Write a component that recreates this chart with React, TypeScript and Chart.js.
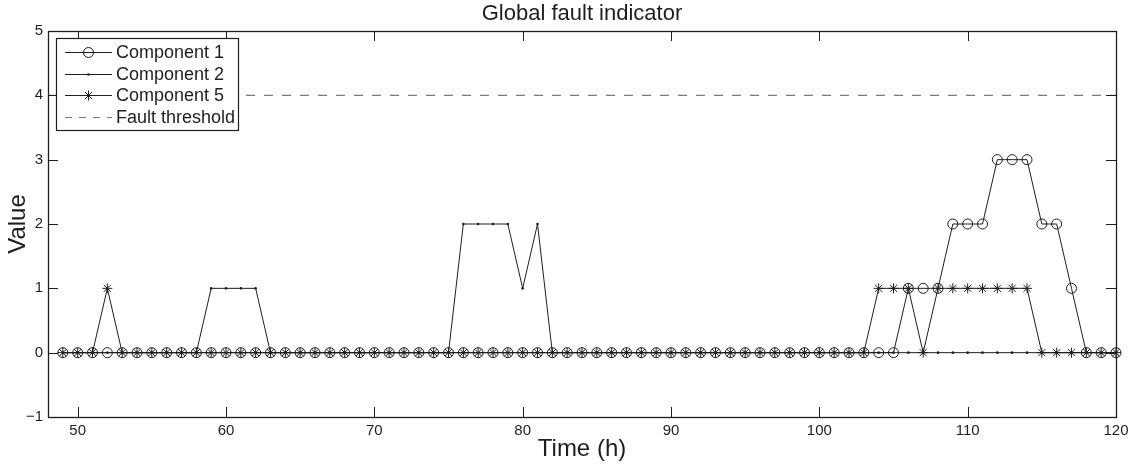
import React, { useEffect, useRef } from 'react';
import { Chart, registerables } from 'chart.js';

Chart.register(...registerables);

// ---- Data ----
const timeHours = [
  49, 50, 51, 52, 53, 54, 55, 56, 57, 58,
  59, 60, 61, 62, 63, 64, 65, 66, 67, 68,
  69, 70, 71, 72, 73, 74, 75, 76, 77, 78,
  79, 80, 81, 82, 83, 84, 85, 86, 87, 88,
  89, 90, 91, 92, 93, 94, 95, 96, 97, 98,
  99, 100, 101, 102, 103, 104, 105, 106, 107, 108,
  109, 110, 111, 112, 113, 114, 115, 116, 117, 118,
  119, 120,
];
const component1 = [
  0, 0, 0, 0, 0, 0, 0, 0, 0, 0,
  0, 0, 0, 0, 0, 0, 0, 0, 0, 0,
  0, 0, 0, 0, 0, 0, 0, 0, 0, 0,
  0, 0, 0, 0, 0, 0, 0, 0, 0, 0,
  0, 0, 0, 0, 0, 0, 0, 0, 0, 0,
  0, 0, 0, 0, 0, 0, 0, 1, 1, 1,
  2, 2, 2, 3, 3, 3, 2, 2, 1, 0,
  0, 0,
];
const component2 = [
  0, 0, 0, 0, 0, 0, 0, 0, 0, 0,
  1, 1, 1, 1, 0, 0, 0, 0, 0, 0,
  0, 0, 0, 0, 0, 0, 0, 2, 2, 2,
  2, 1, 2, 0, 0, 0, 0, 0, 0, 0,
  0, 0, 0, 0, 0, 0, 0, 0, 0, 0,
  0, 0, 0, 0, 0, 0, 0, 0, 0, 0,
  0, 0, 0, 0, 0, 0, 0, 0, 0, 0,
  0, 0,
];
const component5 = [
  0, 0, 0, 1, 0, 0, 0, 0, 0, 0,
  0, 0, 0, 0, 0, 0, 0, 0, 0, 0,
  0, 0, 0, 0, 0, 0, 0, 0, 0, 0,
  0, 0, 0, 0, 0, 0, 0, 0, 0, 0,
  0, 0, 0, 0, 0, 0, 0, 0, 0, 0,
  0, 0, 0, 0, 0, 1, 1, 1, 0, 1,
  1, 1, 1, 1, 1, 1, 0, 0, 0, 0,
  0, 0,
];
const thresholdX = [48, 120];
const thresholdY = [4, 4];

const xTickValues = [50, 60, 70, 80, 90, 100, 110, 120];
const yTickValues = [-1, 0, 1, 2, 3, 4, 5];
const seriesLabels = ['Component 1', 'Component 2', 'Component 5', 'Fault threshold'];
const titleText = 'Global fault indicator';
const xTitle = 'Time (h)';
const yTitle = 'Value';

const FONT = '"Liberation Sans", Arial, Helvetica, sans-serif';
const INK = '#1e1e1e';
const DASH_COLOR = '#7a7a7a';

function drawMarker(ctx: CanvasRenderingContext2D, kind: string, x: number, y: number) {
  ctx.beginPath();
  if (kind === 'circle') {
    ctx.arc(x, y, 5, 0, Math.PI * 2);
    ctx.stroke();
  } else if (kind === 'dot') {
    ctx.arc(x, y, 1.3, 0, Math.PI * 2);
    ctx.fill();
  } else if (kind === 'star') {
    const r = 5;
    const d = r * Math.SQRT1_2;
    ctx.moveTo(x - r, y); ctx.lineTo(x + r, y);
    ctx.moveTo(x, y - r); ctx.lineTo(x, y + r);
    ctx.moveTo(x - d, y - d); ctx.lineTo(x + d, y + d);
    ctx.moveTo(x - d, y + d); ctx.lineTo(x + d, y - d);
    ctx.stroke();
  }
}

const framePlugin = {
  id: 'matlabFrame',
  afterDatasetsDraw(chart: any) {
    const { ctx, chartArea: a, scales } = chart;
    const x = scales.x;
    const y = scales.y;
    const TL = 10;
    ctx.save();
    ctx.strokeStyle = INK;
    ctx.lineWidth = 1;
    ctx.beginPath();
    xTickValues.forEach((v) => {
      const px = Math.round(x.getPixelForValue(v)) + 0.5;
      ctx.moveTo(px, a.bottom); ctx.lineTo(px, a.bottom - TL);
      ctx.moveTo(px, a.top); ctx.lineTo(px, a.top + TL);
    });
    yTickValues.forEach((v) => {
      const py = Math.round(y.getPixelForValue(v)) + 0.5;
      ctx.moveTo(a.left, py); ctx.lineTo(a.left + TL, py);
      ctx.moveTo(a.right, py); ctx.lineTo(a.right - TL, py);
    });
    ctx.stroke();
    ctx.lineWidth = 1.3;
    ctx.strokeRect(Math.round(a.left) + 0.5, Math.round(a.top) + 0.5,
      Math.round(a.right - a.left), Math.round(a.bottom - a.top));
    ctx.restore();
  },
  afterDraw(chart: any) {
    const { ctx, chartArea: a } = chart;
    const bx = a.left + 8;
    const by = a.top + 7;
    const bw = 182;
    const bh = 92;
    ctx.save();
    ctx.fillStyle = '#ffffff';
    ctx.fillRect(bx, by, bw, bh);
    ctx.strokeStyle = INK;
    ctx.lineWidth = 1.2;
    ctx.strokeRect(bx + 0.5, by + 0.5, bw, bh);
    const markers = ['circle', 'dot', 'star', 'none'];
    const rowH = 21.6;
    seriesLabels.forEach((label, i) => {
      const ry = Math.round(by + 14 + i * rowH) + 0.5;
      const x0 = bx + 9;
      const x1 = bx + 56;
      ctx.lineWidth = 1;
      if (i === 3) {
        ctx.strokeStyle = DASH_COLOR;
        ctx.setLineDash([7, 7]);
      } else {
        ctx.strokeStyle = INK;
        ctx.setLineDash([]);
      }
      ctx.beginPath();
      ctx.moveTo(x0, ry); ctx.lineTo(x1, ry);
      ctx.stroke();
      ctx.setLineDash([]);
      ctx.strokeStyle = INK;
      ctx.fillStyle = INK;
      if (markers[i] !== 'none') drawMarker(ctx, markers[i], (x0 + x1) / 2, ry);
      ctx.fillStyle = INK;
      ctx.font = `18px ${FONT}`;
      ctx.textBaseline = 'middle';
      ctx.textAlign = 'left';
      ctx.fillText(label, bx + 60, ry + 1);
    });
    ctx.restore();
  },
};

export default function App() {
  const canvasRef = useRef<HTMLCanvasElement | null>(null);

  useEffect(() => {
    const canvas = canvasRef.current;
    if (!canvas) return;
    const pts = (ys: number[]) => timeHours.map((t, i) => ({ x: t, y: ys[i] }));
    const chart = new Chart(canvas, {
      type: 'line',
      data: {
        datasets: [
          {
            label: seriesLabels[0],
            data: pts(component1),
            borderColor: INK,
            borderWidth: 1,
            pointStyle: 'circle',
            pointRadius: 5,
            pointBorderWidth: 1,
            pointBorderColor: INK,
            pointBackgroundColor: 'rgba(0,0,0,0)',
            tension: 0,
            clip: false as any,
            order: 3,
          },
          {
            label: seriesLabels[1],
            data: pts(component2),
            borderColor: INK,
            borderWidth: 1,
            pointStyle: 'circle',
            pointRadius: 1.3,
            pointBorderWidth: 0,
            pointBackgroundColor: INK,
            tension: 0,
            clip: false as any,
            order: 2,
          },
          {
            label: seriesLabels[2],
            data: pts(component5),
            borderColor: INK,
            borderWidth: 1,
            pointStyle: 'star',
            pointRadius: 5,
            pointBorderWidth: 1,
            pointBorderColor: INK,
            pointBackgroundColor: 'rgba(0,0,0,0)',
            tension: 0,
            clip: false as any,
            order: 1,
          },
          {
            label: seriesLabels[3],
            data: thresholdX.map((t, i) => ({ x: t, y: thresholdY[i] })),
            borderColor: DASH_COLOR,
            borderWidth: 1.2,
            borderDash: [9, 9],
            pointRadius: 0,
            tension: 0,
            order: 0,
          },
        ],
      },
      options: {
        animation: false,
        responsive: false,
        maintainAspectRatio: false,
        events: [],
        layout: { padding: { left: 0, right: 22, top: 0, bottom: 0 } },
        plugins: {
          legend: { display: false },
          tooltip: { enabled: false },
          title: {
            display: true,
            text: titleText,
            fullSize: false,
            color: INK,
            font: { family: FONT, size: 22, weight: 'normal' },
            padding: { top: 1, bottom: 3.6 },
          },
        },
        scales: {
          x: {
            type: 'linear',
            min: 48,
            max: 120,
            afterBuildTicks: (scale: any) => {
              scale.ticks = xTickValues.map((v) => ({ value: v }));
            },
            afterFit: (scale: any) => { scale.height = 49; },
            grid: { display: false, drawTicks: false },
            border: { display: false },
            ticks: {
              color: INK,
              font: { family: FONT, size: 15 },
              padding: 5,
              maxRotation: 0,
              autoSkip: false,
            },
            title: {
              display: true,
              text: xTitle,
              color: INK,
              font: { family: FONT, size: 24 },
              padding: { top: 0, bottom: 2 },
            },
          },
          y: {
            type: 'linear',
            min: -1,
            max: 5,
            afterBuildTicks: (scale: any) => {
              scale.ticks = yTickValues.map((v) => ({ value: v }));
            },
            afterFit: (scale: any) => { scale.width = 48; },
            grid: { display: false, drawTicks: false },
            border: { display: false },
            ticks: {
              color: INK,
              font: { family: FONT, size: 15 },
              padding: 5,
              callback: (v: any) => (Number(v) < 0 ? '\u2212' + Math.abs(Number(v)) : String(v)),
            },
            title: {
              display: true,
              text: yTitle,
              color: INK,
              font: { family: FONT, size: 24 },
              padding: { top: 4, bottom: 0 },
            },
          },
        },
      },
      plugins: [framePlugin],
    } as any);
    return () => chart.destroy();
  }, []);

  return (
    <div style={{ position: 'fixed', left: 0, top: 0, width: 1138, height: 466, background: '#fff' }}>
      <canvas ref={canvasRef} width={1138} height={466} style={{ width: 1138, height: 466, display: 'block' }} />
    </div>
  );
}
